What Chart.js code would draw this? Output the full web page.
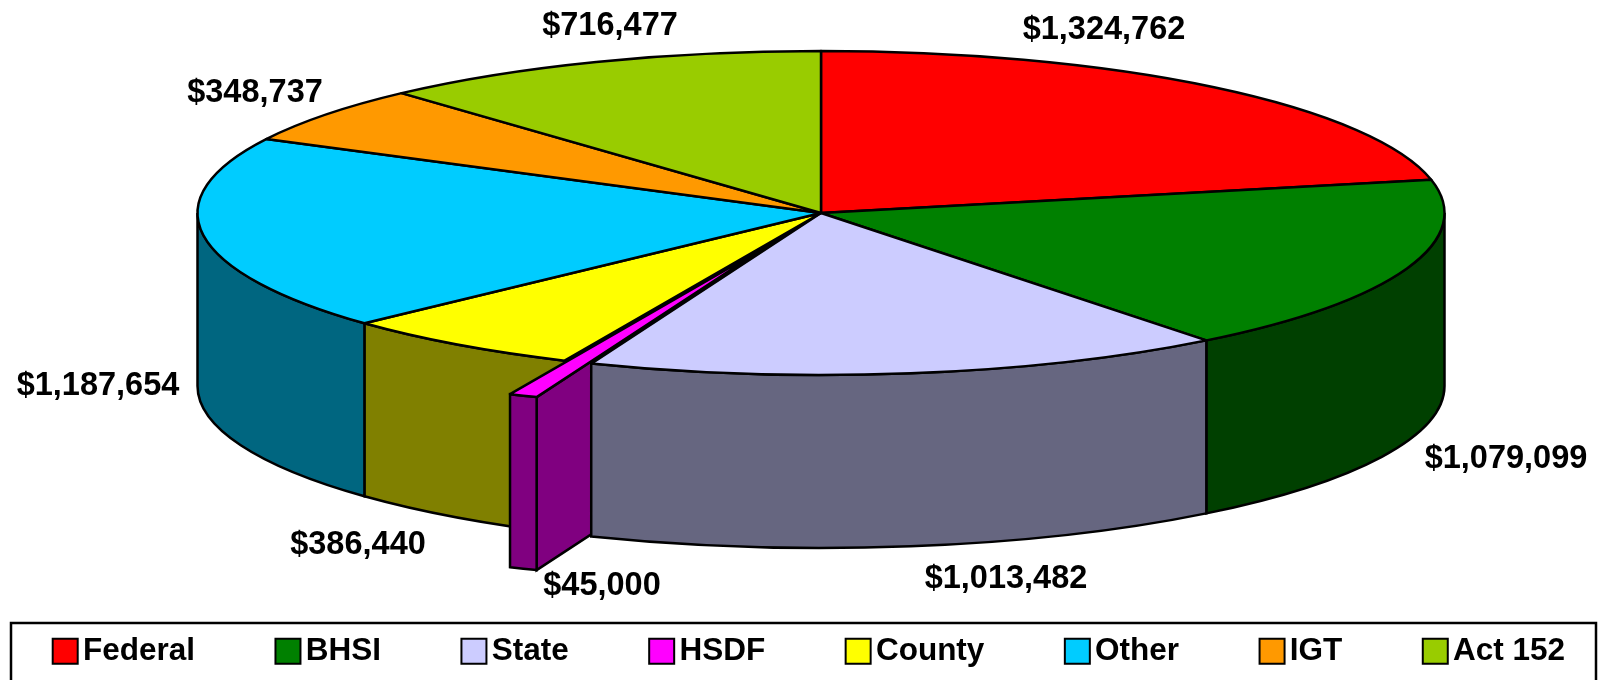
<!DOCTYPE html>
<html><head><meta charset="utf-8">
<style>html,body{margin:0;padding:0;background:#fff}canvas{display:block}</style>
<script src="https://cdn.jsdelivr.net/npm/chart.js@4/dist/chart.umd.js"></script>
</head><body><canvas id="c" width="1604" height="680"></canvas>
<script>
const categories = ['Federal','BHSI','State','HSDF','County','Other','IGT','Act 152'];
const amounts = [1324762,1079099,1013482,45000,386440,1187654,348737,716477];
const colors = ['#FF0000','#008000','#CCCCFF','#FF00FF','#FFFF00','#00CCFF','#FF9900','#99CC00'];
const sideColors = ['#800000','#004000','#666680','#800080','#808000','#006680','#804C00','#4C6600'];
const labelSpots = [[1104,30],[1506,459],[1006,579],[602,586],[358,545],[98,386],[255,93],[610,26]];
const explodedIndex = 3;

const CX = 821, CY = 213, RX = 623.5, RY = 162, DEPTH = 173, EXPLODE = 140;
const LW = 2.5;
const K = RY / RX;

function explodeOffset(a){
  const mid = (a.startAngle + a.endAngle) / 2;
  return [Math.cos(mid) * EXPLODE, Math.sin(mid) * EXPLODE * K];
}
function outerWall(ctx, a, color, dx, dy){
  const s = Math.max(a.startAngle, 0), e = Math.min(a.endAngle, Math.PI);
  if (e <= s) return;
  const x = CX + dx, y = CY + dy;
  ctx.beginPath();
  ctx.ellipse(x, y, RX, RY, 0, s, e);
  ctx.ellipse(x, y + DEPTH, RX, RY, 0, e, s, true);
  ctx.closePath();
  ctx.fillStyle = color; ctx.fill();
  ctx.lineWidth = LW; ctx.strokeStyle = '#000'; ctx.stroke();
}
function radialWall(ctx, a, color, dx, dy){
  const x = CX + dx, y = CY + dy;
  const ox = x + Math.cos(a.startAngle) * RX, oy = y + Math.sin(a.startAngle) * RY;
  ctx.beginPath();
  ctx.moveTo(x, y); ctx.lineTo(ox, oy); ctx.lineTo(ox, oy + DEPTH); ctx.lineTo(x, y + DEPTH);
  ctx.closePath();
  ctx.fillStyle = color; ctx.fill();
  ctx.lineWidth = LW; ctx.strokeStyle = '#000'; ctx.stroke();
}
function emptyWedge(ctx, a){
  ctx.beginPath();
  ctx.moveTo(CX, CY);
  ctx.ellipse(CX, CY, RX, RY, 0, a.startAngle, a.endAngle);
  ctx.closePath();
  ctx.fillStyle = '#000'; ctx.fill();
}
function topFace(ctx, a, dx, dy){
  ctx.save();
  ctx.translate(CX + dx, CY + dy);
  ctx.scale(1, K);
  ctx.translate(-a.x, -a.y);
  a.draw(ctx);
  ctx.restore();
  const x = CX + dx, y = CY + dy;
  ctx.beginPath();
  ctx.moveTo(x, y);
  ctx.ellipse(x, y, RX, RY, 0, a.startAngle, a.endAngle);
  ctx.closePath();
  ctx.lineJoin = 'round';
  ctx.lineWidth = LW; ctx.strokeStyle = '#000'; ctx.stroke();
}

const pie3d = {
  id: 'pie3d',
  beforeDatasetDraw(chart, args){
    const ctx = chart.ctx, arcs = args.meta.data;
    const hole = arcs[explodedIndex];
    const [ex, ey] = explodeOffset(hole);
    ctx.save();
    arcs.forEach((a, i) => { if (i > explodedIndex) outerWall(ctx, a, sideColors[i], 0, 0); });
    emptyWedge(ctx, hole);
    radialWall(ctx, hole, sideColors[explodedIndex], ex, ey);
    outerWall(ctx, hole, sideColors[explodedIndex], ex, ey);
    arcs.forEach((a, i) => { if (i < explodedIndex) outerWall(ctx, a, sideColors[i], 0, 0); });
    arcs.forEach((a, i) => { if (i !== explodedIndex) topFace(ctx, a, 0, 0); });
    topFace(ctx, hole, ex, ey);
    ctx.restore();
    return false;
  },
  afterDraw(chart){
    const ctx = chart.ctx;
    ctx.save();
    ctx.font = 'bold 32.5px "Liberation Sans", Arial, sans-serif';
    ctx.fillStyle = '#000'; ctx.textAlign = 'center'; ctx.textBaseline = 'middle';
    amounts.forEach((v, i) => {
      ctx.fillText('$' + v.toLocaleString('en-US'), labelSpots[i][0], labelSpots[i][1]);
    });
    ctx.strokeStyle = '#000'; ctx.lineWidth = 2.5;
    ctx.beginPath();
    ctx.moveTo(11, 690); ctx.lineTo(11, 623); ctx.lineTo(1596, 623); ctx.lineTo(1596, 690);
    ctx.stroke();
    ctx.restore();
  }
};

new Chart(document.getElementById('c'), {
  type: 'pie',
  plugins: [pie3d],
  data: { labels: categories, datasets: [{ data: amounts, backgroundColor: colors, borderWidth: 0, hoverOffset: 0 }] },
  options: {
    responsive: false, animation: false, radius: RX,
    layout: { padding: { left: 51, bottom: 3 } },
    plugins: {
      tooltip: { enabled: false },
      legend: {
        position: 'bottom', align: 'start',
        labels: {
          color: '#000', font: { family: '"Liberation Sans", Arial, sans-serif', weight: 'bold', size: 31.5 },
          usePointStyle: true, pointStyle: 'rect', boxWidth: 4, boxHeight: 25, padding: 12.2,
          generateLabels(chart){
            const gap = ' '.repeat(9);
            return Chart.overrides.doughnut.plugins.legend.labels.generateLabels(chart)
              .map((l, i, all) => ({ ...l, text: i < all.length - 1 ? l.text + gap : l.text, strokeStyle: '#000', lineWidth: 2 }));
          }
        }
      }
    }
  }
});
</script></body></html>
